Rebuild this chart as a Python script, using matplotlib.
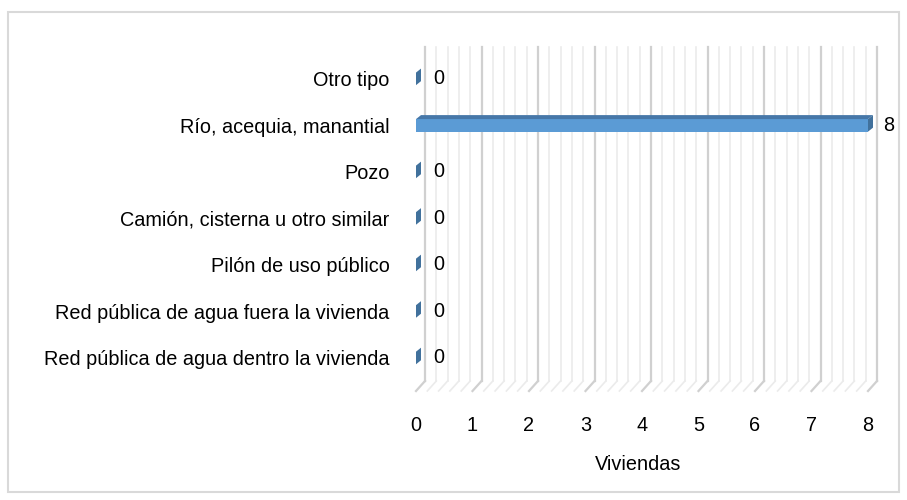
import numpy as np
import matplotlib
matplotlib.use('Agg')
import matplotlib.pyplot as plt
from matplotlib.patches import Polygon, Rectangle

# %% data ---------------------------------------------------------------------

categorias = ['Red pública de agua dentro la vivienda',
              'Red pública de agua fuera la vivienda',
              'Pilón de uso público',
              'Camión, cisterna u otro similar',
              'Pozo',
              'Río, acequia, manantial',
              'Otro tipo']
viviendas = [0, 0, 0, 0, 0, 8, 0]
x_ticks = [0, 1, 2, 3, 4, 5, 6, 7, 8]

# %% figure -------------------------------------------------------------------

plt.rcParams['font.family'] = ['Liberation Sans', 'DejaVu Sans']
fs = 14.3

W, H = 907, 500
fig = plt.figure(figsize=(W / 100, H / 100), dpi=100)

# front plane of the 3D plot area (pixels: x 416..868, y 57..391 from top)
ax = fig.add_axes([416 / W, 1 - 391 / H, 452 / W, (391 - 57) / H])
ylo, yhi = -0.71, 6.47
ax.set_xlim(0, 8)
ax.set_ylim(ylo, yhi)
for s in ax.spines.values():
    s.set_visible(False)

# depth of the back wall and of the bars, in data units
px_x = 452 / 8
px_y = 334 / (yhi - ylo)
wdx, wdy = 9 / px_x, 10 / px_y
bdx, bdy = 5 / px_x, 4 / px_y

# back wall grid + floor slants
for v in np.arange(0, 8.001, 0.2):
    major = abs(v - round(v)) < 1e-6
    col = '#d0d0d0' if major else '#ebebeb'
    lw = 1.6 if major else 1.2
    ax.plot([v + wdx, v + wdx], [ylo + wdy, yhi + wdy], color=col, lw=lw,
            clip_on=False, zorder=1)
    ax.plot([v, v + wdx], [ylo, ylo + wdy], color=col, lw=lw,
            clip_on=False, zorder=1)

# 3D bars
h = 0.27
for i, val in enumerate(viviendas):
    y0, y1 = i - h / 2, i + h / 2
    if val > 0:
        ax.add_patch(Rectangle((0, y0), val, h, facecolor='#5b9bd5',
                               edgecolor='none', zorder=3, clip_on=False))
        ax.add_patch(Polygon([(0, y1), (bdx, y1 + bdy), (val + bdx, y1 + bdy), (val, y1)],
                             facecolor='#4677a8', edgecolor='none', zorder=3, clip_on=False))
    ax.add_patch(Polygon([(val, y0), (val + bdx, y0 + bdy), (val + bdx, y1 + bdy), (val, y1)],
                         facecolor='#41719c', edgecolor='none', zorder=4, clip_on=False))
    ax.annotate(str(val), (val, i), xytext=(15 if val > 0 else 17, 0),
                textcoords='offset pixels',
                ha='left', va='center', fontsize=fs, color='black')

ax.set_yticks(range(len(categorias)))
ax.set_yticklabels(categorias, fontsize=fs)
ax.set_xticks(x_ticks)
ax.set_xticklabels([str(t) for t in x_ticks], fontsize=fs)
ax.tick_params(axis='y', length=0, pad=19)
ax.tick_params(axis='x', length=0, pad=18)

fig.text(638 / W, 1 - 464 / H, 'Viviendas', ha='center', va='center', fontsize=fs)

# chart border
fig.patches.append(Rectangle((8 / W, 1 - 492 / H), 891 / W, 480 / H,
                             transform=fig.transFigure, fill=False,
                             edgecolor='#d9d9d9', lw=1.5))

fig.savefig('out.png', dpi=100)
